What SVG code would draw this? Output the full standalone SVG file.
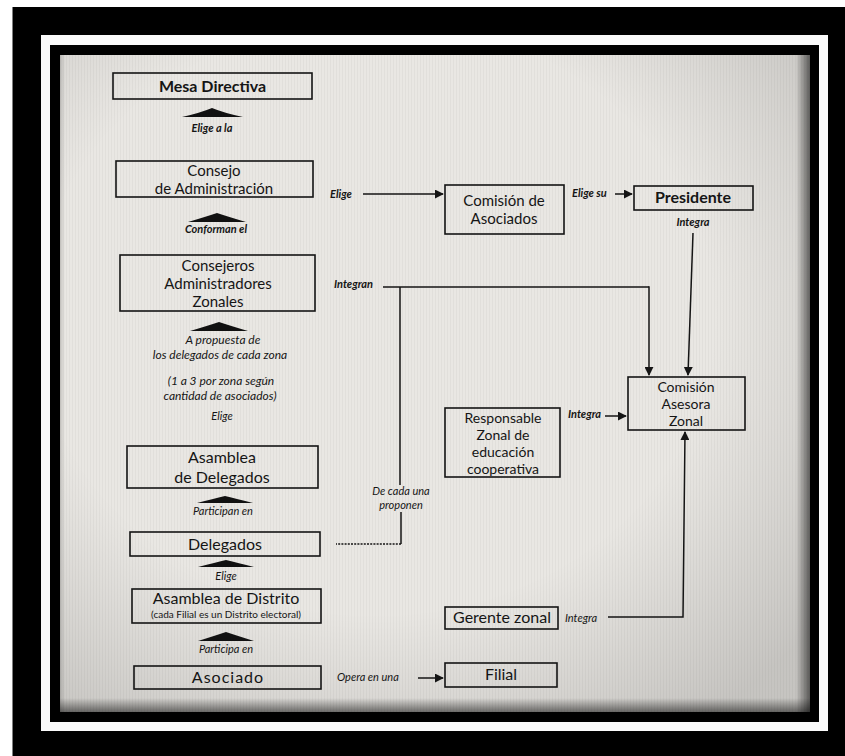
<svg xmlns="http://www.w3.org/2000/svg" width="845" height="756" viewBox="0 0 845 756">
<style>
.box{fill:none;stroke:#151515;stroke-width:1.6}
.t{font-family:Lato,"Open Sans",sans-serif;font-size:16px;fill:#151515;text-anchor:middle}
.s15{font-size:15px}
.s14{font-size:14px}
.lb{font-family:Lato,"Open Sans",sans-serif;font-style:italic;font-size:11px;fill:#151515}
.c{text-anchor:middle}
.b{font-weight:bold}
.m{font-size:12px}
.conn{fill:none;stroke:#151515;stroke-width:1.5}
.dot{stroke-dasharray:2 1.2}
.tri{fill:#111}
</style>
<defs>
<marker id="ah" viewBox="0 0 10 10" refX="9" refY="5" markerWidth="9" markerHeight="9" markerUnits="userSpaceOnUse" orient="auto">
<path d="M0,0 L10,5 L0,10 Z" fill="#151515"/>
</marker>
<radialGradient id="vig" cx="0.42" cy="0.4" r="0.75">
<stop offset="0.6" stop-color="#000" stop-opacity="0"/>
<stop offset="1" stop-color="#000" stop-opacity="0.15"/>
</radialGradient>
<linearGradient id="er" x1="0" y1="0" x2="1" y2="0">
<stop offset="0" stop-color="#000" stop-opacity="0"/>
<stop offset="1" stop-color="#000" stop-opacity="0.55"/>
</linearGradient>
<linearGradient id="eb" x1="0" y1="0" x2="0" y2="1">
<stop offset="0" stop-color="#000" stop-opacity="0"/>
<stop offset="1" stop-color="#000" stop-opacity="0.5"/>
</linearGradient>
<linearGradient id="el" x1="1" y1="0" x2="0" y2="0">
<stop offset="0" stop-color="#000" stop-opacity="0"/>
<stop offset="1" stop-color="#000" stop-opacity="0.15"/>
</linearGradient>
<pattern id="tex" width="3" height="10" patternUnits="userSpaceOnUse">
<rect width="1" height="10" fill="#000" opacity="0.035"/>
</pattern>
</defs>

<g id="frame">
<rect x="0" y="0" width="845" height="756" fill="#fff"/>
<rect x="12.5" y="7" width="832.5" height="749" fill="#000"/>
<rect x="41" y="35" width="787" height="696" fill="#fafafa"/>
<rect x="50" y="45" width="769" height="677" fill="#000"/>
<rect x="60" y="55" width="750" height="657" fill="#e9e7e3"/>
<rect x="60" y="55" width="750" height="657" fill="url(#tex)"/>
<rect x="60" y="55" width="750" height="657" fill="url(#vig)"/>
<rect x="796" y="55" width="14" height="657" fill="url(#er)"/>
<rect x="60" y="698" width="750" height="14" fill="url(#eb)"/>
<rect x="60" y="55" width="5" height="657" fill="url(#el)"/>
</g>

<g id="connectors">
<path class="tri" d="M182,117 Q200,113 212,108 Q224,113 243,117 Z"/>
<path class="tri" d="M188,222 Q205,217 217,213 Q229,217 246,222 Z"/>
<path class="tri" d="M190,331 Q207,326 219,322 Q231,326 248,331 Z"/>
<path class="tri" d="M197,503 Q213,499 225,496 Q237,499 253,503 Z"/>
<path class="tri" d="M198,567 Q214,563 226,560 Q238,563 254,567 Z"/>
<path class="tri" d="M198,641 Q214,636 226,632 Q238,636 254,641 Z"/>
<line class="conn" x1="363" y1="194" x2="443" y2="194" marker-end="url(#ah)"/>
<line class="conn" x1="615" y1="194" x2="632" y2="194" marker-end="url(#ah)"/>
<line class="conn" x1="383" y1="287" x2="649" y2="287"/>
<line class="conn" x1="649" y1="286.3" x2="649" y2="375" marker-end="url(#ah)"/>
<line class="conn" x1="693" y1="233" x2="688" y2="375" marker-end="url(#ah)"/>
<line class="conn" x1="400" y1="287" x2="400" y2="485"/>
<line class="conn" x1="401" y1="512" x2="401" y2="544"/>
<line class="conn dot" x1="401" y1="544" x2="336" y2="544"/>
<line class="conn" x1="605" y1="416" x2="626" y2="416" marker-end="url(#ah)"/>
<polyline class="conn" points="608,617 683,617 685,432" marker-end="url(#ah)"/>
<line class="conn" x1="418" y1="678" x2="443" y2="678" marker-end="url(#ah)"/>
</g>

<g id="mesa">
<rect class="box" x="113" y="73" width="199" height="26"/>
<text class="t b" x="212.5" y="92">Mesa Directiva</text>
</g>
<g id="consejo">
<rect class="box" x="116" y="161" width="197" height="36"/>
<text class="t s15"><tspan x="214" y="176">Consejo</tspan><tspan x="214" y="194">de Administración</tspan></text>
</g>
<g id="comision-asociados">
<rect class="box" x="445" y="185" width="119" height="49"/>
<text class="t s15"><tspan x="504" y="206">Comisión de</tspan><tspan x="504" y="224">Asociados</tspan></text>
</g>
<g id="presidente">
<rect class="box" x="634" y="186" width="119" height="24"/>
<text class="t b" x="693" y="203">Presidente</text>
</g>
<g id="consejeros">
<rect class="box" x="120" y="255" width="195" height="56"/>
<text class="t s15"><tspan x="218" y="271">Consejeros</tspan><tspan x="218" y="289">Administradores</tspan><tspan x="218" y="307">Zonales</tspan></text>
</g>
<g id="comision-asesora">
<rect class="box" x="628" y="377" width="117" height="53"/>
<text class="t s14"><tspan x="686" y="392">Comisión</tspan><tspan x="686" y="409">Asesora</tspan><tspan x="686" y="426">Zonal</tspan></text>
</g>
<g id="responsable">
<rect class="box" x="445" y="408" width="115" height="69"/>
<text class="t s14"><tspan x="503" y="423">Responsable</tspan><tspan x="503" y="440">Zonal de</tspan><tspan x="503" y="457">educación</tspan><tspan x="503" y="474">cooperativa</tspan></text>
</g>
<g id="asamblea-delegados">
<rect class="box" x="127" y="446" width="191" height="42"/>
<text class="t"><tspan x="222" y="463">Asamblea</tspan><tspan x="222" y="482.5">de Delegados</tspan></text>
</g>
<g id="delegados">
<rect class="box" x="130" y="532" width="190" height="24"/>
<text class="t" x="225" y="550">Delegados</text>
</g>
<g id="asamblea-distrito">
<rect class="box" x="132" y="589" width="189" height="34"/>
<text class="t"><tspan x="226" y="604">Asamblea de Distrito</tspan><tspan x="226" y="618" style="font-size:10px">(cada Filial es un Distrito electoral)</tspan></text>
</g>
<g id="asociado">
<rect class="box" x="134" y="666" width="187" height="23"/>
<text class="t" x="228" y="683" style="letter-spacing:1px">Asociado</text>
</g>
<g id="gerente">
<rect class="box" x="445" y="607" width="113" height="22"/>
<text class="t" x="502" y="623">Gerente zonal</text>
</g>
<g id="filial">
<rect class="box" x="445" y="663" width="112" height="24"/>
<text class="t" x="501" y="680">Filial</text>
</g>

<g id="labels">
<text class="lb b c" x="212" y="132">Elige a la</text>
<text class="lb b c" x="216" y="233">Conforman el</text>
<text class="lb b" x="330" y="198">Elige</text>
<text class="lb b" x="572" y="197">Elige su</text>
<text class="lb b c" x="693" y="226">Integra</text>
<text class="lb b" x="334" y="288">Integran</text>
<text class="lb m c"><tspan x="223" y="344">A propuesta de</tspan><tspan x="220" y="358.5">los delegados de cada zona</tspan></text>
<text class="lb m c"><tspan x="221" y="385">(1 a 3 por zona según</tspan><tspan x="220" y="399.5">cantidad de asociados)</tspan></text>
<text class="lb c" x="222" y="420">Elige</text>
<text class="lb c"><tspan x="401" y="495">De cada una</tspan><tspan x="401" y="508.5">proponen</tspan></text>
<text class="lb c" x="223" y="515">Participan en</text>
<text class="lb c" x="226" y="580">Elige</text>
<text class="lb c" x="226" y="653">Participa en</text>
<text class="lb" x="337" y="681">Opera en una</text>
<text class="lb b" x="568" y="418">Integra</text>
<text class="lb" x="565" y="622">Integra</text>
</g>
</svg>
